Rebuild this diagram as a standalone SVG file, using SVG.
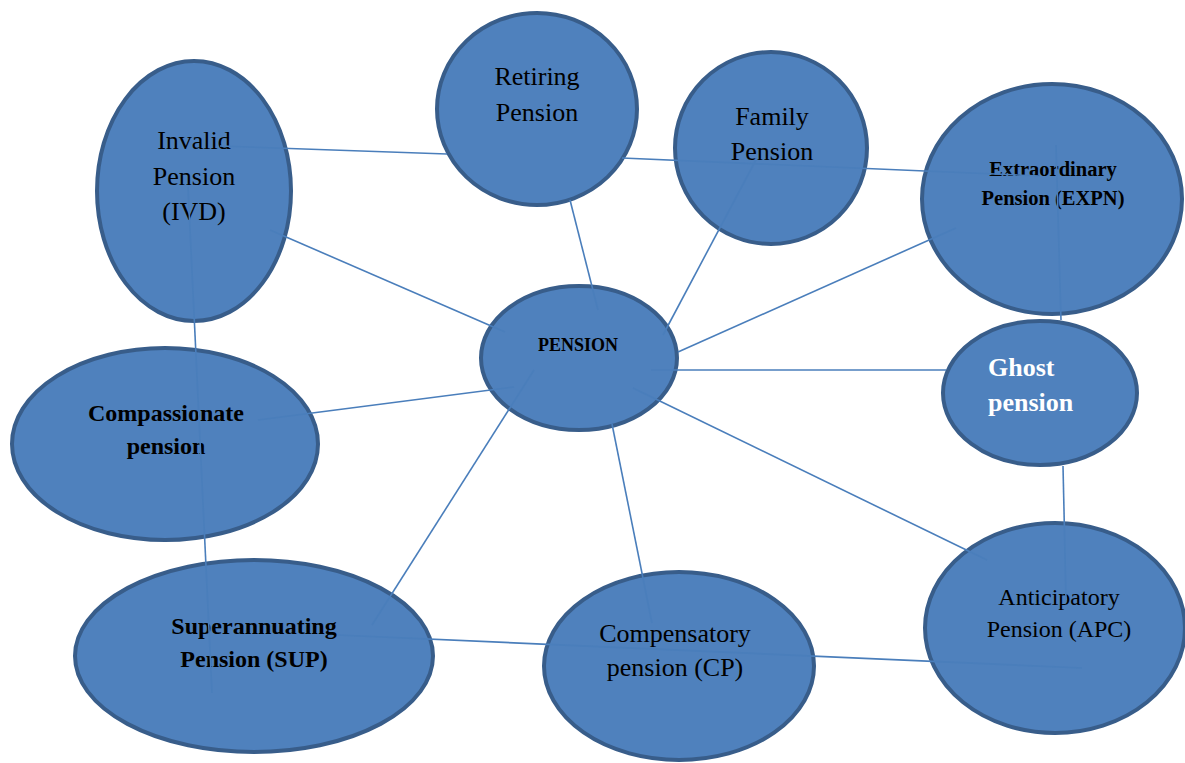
<svg xmlns="http://www.w3.org/2000/svg" width="1185" height="763" viewBox="0 0 1185 763">
<style>
.node{fill:#4F81BD;stroke:#385D8A;stroke-width:4}
.t{font-family:"Liberation Serif","Times New Roman",serif;fill:#000;text-anchor:middle}
.b{font-weight:bold}
.w{fill:#fff;text-anchor:start}
.conn line{stroke:#4A7EBB;stroke-width:1.6}
</style>
<rect width="1185" height="763" fill="#fff"/>
<g id="invalid"><ellipse class="node" cx="194" cy="191" rx="97" ry="130"/>
<text class="t" font-size="26" x="194" y="149">Invalid</text><text class="t" font-size="26" x="194" y="185">Pension</text><text class="t" font-size="26" x="194" y="220">(IVD)</text></g>
<g id="retiring"><ellipse class="node" cx="537" cy="109" rx="100" ry="96"/>
<text class="t" font-size="26" x="537" y="85">Retiring</text><text class="t" font-size="26" x="537" y="121">Pension</text></g>
<g id="family"><ellipse class="node" cx="771" cy="148" rx="96" ry="96"/>
<text class="t" font-size="26" x="772" y="125">Family</text><text class="t" font-size="26" x="772" y="160">Pension</text></g>
<g id="extraordinary"><ellipse class="node" cx="1052" cy="199" rx="130" ry="115"/>
<text class="t b" font-size="20.5" x="1053" y="176">Extraordinary</text><text class="t b" font-size="20.5" x="1053" y="205">Pension (EXPN)</text></g>
<g id="pension"><ellipse class="node" cx="579" cy="358" rx="98" ry="72"/>
<text class="t b" font-size="18" x="578" y="351">PENSION</text></g>
<g id="ghost"><ellipse class="node" cx="1040" cy="393" rx="97" ry="72"/>
<text class="t b w" font-size="26" x="988" y="376">Ghost</text><text class="t b w" font-size="26" x="988" y="411">pension</text></g>
<g id="compassionate"><ellipse class="node" cx="165" cy="444" rx="153" ry="96"/>
<text class="t b" font-size="24" x="166" y="421">Compassionate</text><text class="t b" font-size="24" x="166" y="454">pension</text></g>
<g id="superannuating"><ellipse class="node" cx="254" cy="656" rx="179" ry="96"/>
<text class="t b" font-size="24" x="254" y="634">Superannuating</text><text class="t b" font-size="24" x="254" y="667">Pension (SUP)</text></g>
<g id="compensatory"><ellipse class="node" cx="679" cy="666" rx="135" ry="94"/>
<text class="t" font-size="26" x="675" y="642">Compensatory</text><text class="t" font-size="26" x="675" y="676">pension (CP)</text></g>
<g id="anticipatory"><ellipse class="node" cx="1055" cy="628" rx="130" ry="105"/>
<text class="t" font-size="24" x="1059" y="605">Anticipatory</text><text class="t" font-size="24" x="1059" y="637">Pension (APC)</text></g>
<g id="connectors" class="conn">
<line x1="220" y1="146" x2="447" y2="154"/>
<line x1="270" y1="230" x2="505" y2="332"/>
<line x1="570" y1="200" x2="598" y2="310"/>
<line x1="622" y1="158" x2="1040" y2="176"/>
<line x1="757" y1="158" x2="663" y2="335"/>
<line x1="956" y1="228" x2="678" y2="352"/>
<line x1="1056" y1="145" x2="1061" y2="320"/>
<line x1="651" y1="370" x2="946" y2="370"/>
<line x1="1063" y1="466" x2="1066" y2="600"/>
<line x1="633" y1="388" x2="987" y2="560"/>
<line x1="612" y1="424" x2="652" y2="623"/>
<line x1="337" y1="635" x2="1082" y2="668"/>
<line x1="534" y1="370" x2="372" y2="625"/>
<line x1="514" y1="387" x2="258" y2="420"/>
<line x1="188" y1="187" x2="212" y2="693"/>
</g>
</svg>
